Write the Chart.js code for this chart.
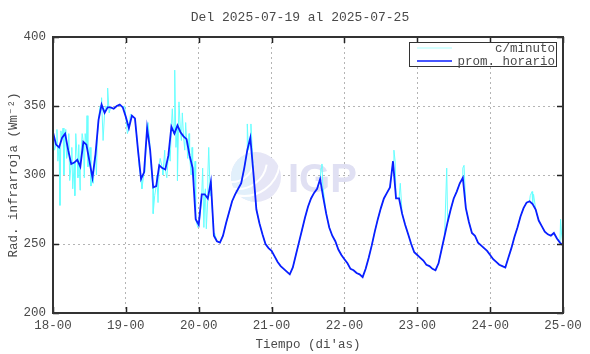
<!DOCTYPE html>
<html>
<head>
<meta charset="utf-8">
<script src="https://cdn.jsdelivr.net/npm/chart.js@4/dist/chart.umd.min.js"></script>
<style>
  body { margin: 0; background: #fff; }
  #grafico { display: block; }
</style>
</head>
<body>
<canvas id="grafico" width="590" height="354"></canvas>
<script>
// promedio horario, una hora por valor desde 18-00 (hora 0) hasta 25-00 (hora 168)
var promHorario = [
  331, 322, 320, 327, 330, 318, 308, 309, 311, 306, 324, 322, 310, 298, 315, 340, 351, 345, 349, 349, 348, 350, 351, 349,
  342, 334, 343, 341, 318, 297, 302, 334, 318, 291, 292, 307, 305, 304, 314, 335, 330, 336, 331, 328, 326, 314, 305, 268,
  264, 286, 286, 283, 295, 256, 252, 251, 256, 265, 273, 281, 286, 290, 294, 305, 318, 327, 302, 275, 265, 257, 250, 247,
  245, 241, 237, 234, 232, 230, 228, 233, 242, 251, 260, 269, 277, 283, 287, 290, 297, 284, 272, 262, 256, 252, 246, 242,
  239, 236, 232, 231, 229, 228, 226, 232, 240, 249, 259, 268, 276, 283, 287, 291, 310, 283, 283, 272, 264, 257, 250, 244,
  242, 240, 238, 235, 234, 232, 231, 236, 246, 256, 266, 275, 283, 288, 294, 298, 276, 266, 258, 256, 251, 249, 247, 245,
  242, 239, 237, 235, 234, 233, 240, 247, 255, 262, 270, 276, 280, 281, 279, 275, 267, 263, 259, 257, 256, 258, 254, 251,
  249
];

// picos de la serie por minuto (hora, valor)
var picosHora = [
  0.5, 1.3, 1.6, 2.3, 2.6, 3.3, 3.6, 4.2, 4.5, 5.2, 5.5, 6.2, 6.5, 7.2, 7.5, 8.2, 8.5, 8.9, 9.3, 9.6,
  10.3, 10.6, 11.2, 11.5, 12.2, 12.5, 13.3, 13.6, 14.3, 14.6, 15.5, 16.0, 16.5, 17.3, 18.0, 18.5,
  23.6, 24.5, 25.5, 27.5, 28.4, 29.3, 30.3, 31.3, 31.8, 32.5, 33.0, 33.5, 34.2, 34.6, 35.3, 36.2, 36.8, 37.5,
  38.2, 38.6, 39.3, 39.7, 40.1, 40.5, 41.0, 41.5, 42.3, 42.6, 43.4, 43.7, 44.4, 44.8, 45.5, 45.8, 46.4, 46.8,
  47.7, 48.4, 49.3, 49.7, 50.2, 50.5, 51.0, 51.3, 51.8, 52.3, 53.2, 64.0, 64.4, 65.2, 65.6,
  88.3, 88.6, 89.0, 111.5, 112.3, 112.7, 114.4, 129.7, 135.0, 135.4, 157.2, 157.8, 158.3, 167.2, 167.5
];
var picosValor = [
  318, 333, 310, 278, 332, 334, 300, 333, 312, 330, 296, 320, 290, 285, 330, 298, 322, 289, 318, 330,
  298, 330, 343, 306, 320, 292, 294, 310, 300, 327, 350, 356, 325, 350, 363, 345,
  350, 330, 344, 330, 306, 290, 305, 338, 326, 300, 272, 285, 300, 280, 312, 300, 318, 298,
  318, 310, 348, 330, 376, 320, 296, 353, 325, 345, 318, 338, 312, 330, 300, 320, 293, 310,
  262, 270, 305, 262, 290, 261, 300, 320, 285, 280, 258, 337, 318, 337, 320,
  305, 308, 290, 300, 318, 310, 294, 305, 305, 307, 285, 288, 286, 268, 258
];

var ticksY = [200, 250, 300, 350, 400];
var diaInicial = 18;
var titulo = "Del 2025-07-19 al 2025-07-25";

var fuente = "'Liberation Mono', 'DejaVu Sans Mono', monospace";
var colorTexto = '#4a4a4a';

var datosHorario = [];
for (var i = 0; i < promHorario.length; i++) {
  datosHorario.push({ x: i, y: promHorario[i] });
}

// serie por minuto = promedios horarios + picos, ordenados en el tiempo
var datosMinuto = datosHorario.slice();
for (var j = 0; j < picosHora.length; j++) {
  datosMinuto.push({ x: picosHora[j], y: picosValor[j] });
}
datosMinuto.sort(function (a, b) { return a.x - b.x; });

const marcoPlugin = {
  id: 'marco',
  beforeDatasetsDraw(chart) {
    // marca de agua
    const ctx = chart.ctx;
    ctx.save();
    ctx.beginPath();
    ctx.arc(256, 177, 25, 0, Math.PI * 2);
    ctx.fillStyle = '#e6e6f6';
    ctx.fill();
    ctx.beginPath();
    ctx.arc(256, 177, 25, Math.PI * 0.55, Math.PI * 1.45);
    ctx.fillStyle = '#e2f0fb';
    ctx.fill();
    ctx.strokeStyle = '#ffffff';
    ctx.lineWidth = 2;
    for (var k = 0; k < 3; k++) {
      ctx.beginPath();
      ctx.arc(232 + k * 6, 160, 22 + k * 7, Math.PI * 0.05, Math.PI * 0.6);
      ctx.stroke();
    }
    ctx.font = "bold 40px 'Liberation Sans', Arial, sans-serif";
    ctx.fillStyle = '#e0e0f3';
    ctx.textBaseline = 'alphabetic';
    ctx.fillText('IGP', 288, 192);
    ctx.restore();
  },
  afterDraw(chart) {
    const ctx = chart.ctx;
    const a = chart.chartArea;
    const sx = chart.scales.x;
    const sy = chart.scales.y;
    ctx.save();
    // marcas hacia adentro
    ctx.strokeStyle = '#222';
    ctx.lineWidth = 1.5;
    sx.ticks.forEach(function (t) {
      var px = Math.round(sx.getPixelForValue(t.value)) + 0.5;
      ctx.beginPath();
      ctx.moveTo(px, a.bottom); ctx.lineTo(px, a.bottom - 6);
      ctx.moveTo(px, a.top); ctx.lineTo(px, a.top + 6);
      ctx.stroke();
    });
    sy.ticks.forEach(function (t) {
      var py = Math.round(sy.getPixelForValue(t.value)) + 0.5;
      ctx.beginPath();
      ctx.moveTo(a.left, py); ctx.lineTo(a.left + 6, py);
      ctx.moveTo(a.right, py); ctx.lineTo(a.right - 6, py);
      ctx.stroke();
    });
    // marco
    ctx.strokeStyle = '#333';
    ctx.lineWidth = 2;
    ctx.strokeRect(a.left, a.top, a.right - a.left, a.bottom - a.top);

    // titulo
    ctx.font = "13px " + fuente;
    ctx.fillStyle = colorTexto;
    ctx.textAlign = 'center';
    ctx.textBaseline = 'middle';
    ctx.fillText(titulo, 300, 18);

    // leyenda
    ctx.fillStyle = '#fff';
    ctx.fillRect(409.5, 42.5, 147, 24);
    ctx.strokeStyle = '#333';
    ctx.lineWidth = 1;
    ctx.strokeRect(409.5, 42.5, 147, 24);
    var ds = chart.data.datasets;
    var orden = [1, 0];
    ctx.font = "12.5px " + fuente;
    ctx.textAlign = 'right';
    for (var n = 0; n < orden.length; n++) {
      var d = ds[orden[n]];
      var yy = 48 + n * 13;
      ctx.strokeStyle = n == 0 ? '#aaffff' : d.borderColor;
      ctx.lineWidth = n == 0 ? 1 : 1.5;
      ctx.beginPath();
      ctx.moveTo(417, yy); ctx.lineTo(452, yy);
      ctx.stroke();
      ctx.fillStyle = colorTexto;
      ctx.fillText(d.label, 555, yy + 1);
    }
    ctx.restore();
  }
};

const config = {
  type: 'line',
  data: {
    datasets: [
      {
        label: 'prom. horario',
        data: datosHorario,
        borderColor: '#0a1eff',
        borderWidth: 1.8,
        pointRadius: 0,
        order: 0
      },
      {
        label: 'c/minuto',
        data: datosMinuto,
        borderColor: '#66ffff',
        borderWidth: 1,
        pointRadius: 0,
        order: 1
      }
    ]
  },
  options: {
    responsive: false,
    animation: false,
    devicePixelRatio: 1,
    layout: { padding: { top: 37, right: 27, left: 0, bottom: 0 } },
    plugins: {
      legend: { display: false },
      tooltip: { enabled: false }
    },
    scales: {
      x: {
        type: 'linear',
        min: 0,
        max: 168,
        afterFit: function (s) { s.height = 41; },
        afterBuildTicks: function (s) {
          s.ticks = [];
          for (var h = 0; h <= 168; h += 24) s.ticks.push({ value: h });
        },
        ticks: {
          padding: 5,
          color: colorTexto,
          font: { family: fuente, size: 12.5 },
          maxRotation: 0,
          callback: function (v) { return (diaInicial + v / 24) + '-00'; }
        },
        grid: { color: '#b4b4b4', drawTicks: false },
        border: { display: false, dash: [2, 3] },
        title: {
          display: true,
          text: "Tiempo (di'as)",
          color: colorTexto,
          font: { family: fuente, size: 12.5 },
          padding: { top: 0, bottom: 2 }
        }
      },
      y: {
        min: 200,
        max: 400,
        afterFit: function (s) { s.width = 53; },
        afterBuildTicks: function (s) {
          s.ticks = ticksY.map(function (v) { return { value: v }; });
        },
        ticks: {
          padding: 7,
          color: colorTexto,
          font: { family: fuente, size: 12.5 }
        },
        grid: { color: '#b4b4b4', drawTicks: false },
        border: { display: false, dash: [2, 3] },
        title: {
          display: true,
          text: 'Rad. infrarroja (Wm⁻²)',
          color: colorTexto,
          font: { family: fuente, size: 12.5 },
          padding: { top: 6, bottom: 0 }
        }
      }
    }
  },
  plugins: [marcoPlugin]
};

let miGrafico = new Chart(document.getElementById('grafico'), config);
</script>
</body>
</html>
